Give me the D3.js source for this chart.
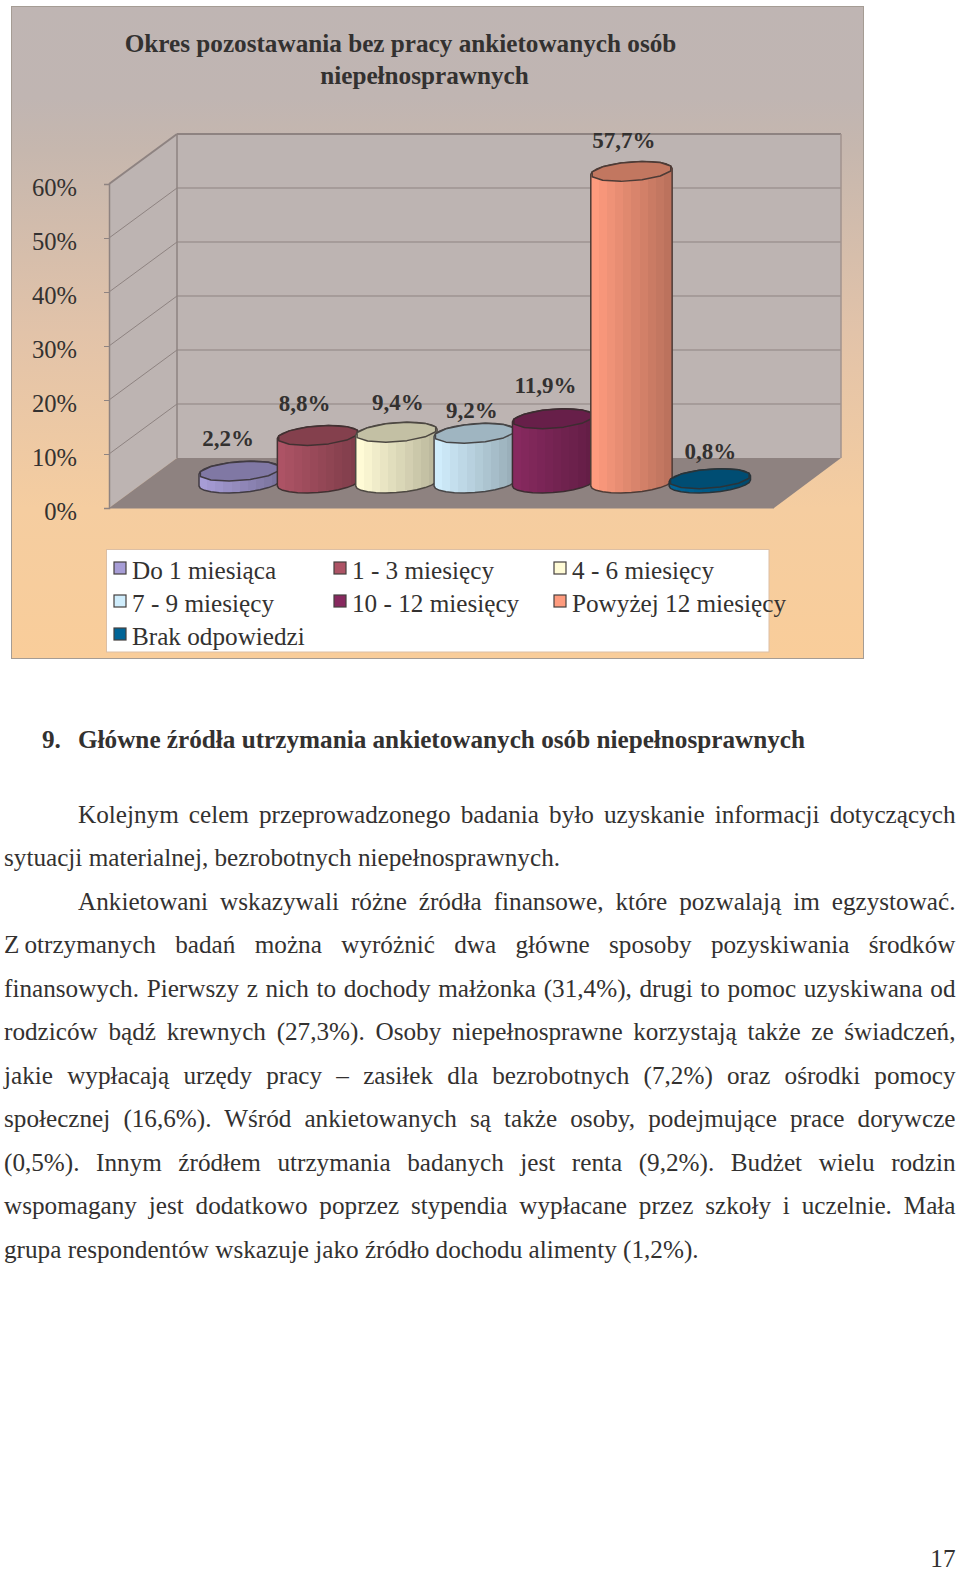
<!DOCTYPE html>
<html lang="pl">
<head>
<meta charset="utf-8">
<script src="https://cdnjs.cloudflare.com/ajax/libs/d3/7.8.5/d3.min.js"></script>
<style>
html,body{margin:0;padding:0;background:#fff}
svg{display:block}
text{font-family:"Liberation Serif","Times New Roman",serif}
</style>
</head>
<body>
<svg id="c" width="960" height="1570"></svg>
<script>
const categories = ["Do 1 miesiąca","1 - 3 miesięcy","4 - 6 miesięcy","7 - 9 miesięcy","10 - 12 miesięcy","Powyżej 12 miesięcy","Brak odpowiedzi"];
const values = [2.2,8.8,9.4,9.2,11.9,57.7,0.8];
const valueLabels = ["2,2%","8,8%","9,4%","9,2%","11,9%","57,7%","0,8%"];
const colors = ["#a79dd6","#ad5365","#fffbd6","#d0edfc","#87295f","#fe9b7e","#006496"];
const tickValues = [0,10,20,30,40,50,60];
const titleLines = ["Okres pozostawania bez pracy ankietowanych osób","niepełnosprawnych"];
const headingNumber = "9.";
const heading = "Główne źródła utrzymania ankietowanych osób niepełnosprawnych";
const bodyLines = [
 {t:"Kolejnym celem przeprowadzonego badania było uzyskanie informacji dotyczących",indent:true,just:true},
 {t:"sytuacji materialnej, bezrobotnych niepełnosprawnych.",indent:false,just:false},
 {t:"Ankietowani wskazywali różne źródła finansowe, które pozwalają im egzystować.",indent:true,just:true},
 {t:"Z\u2009otrzymanych badań można wyróżnić dwa główne sposoby pozyskiwania środków",indent:false,just:true},
 {t:"finansowych. Pierwszy z nich to dochody małżonka (31,4%), drugi to pomoc uzyskiwana od",indent:false,just:true},
 {t:"rodziców bądź krewnych (27,3%). Osoby niepełnosprawne korzystają także ze świadczeń,",indent:false,just:true},
 {t:"jakie wypłacają urzędy pracy – zasiłek dla bezrobotnych (7,2%) oraz ośrodki pomocy",indent:false,just:true},
 {t:"społecznej (16,6%). Wśród ankietowanych są także osoby, podejmujące prace dorywcze",indent:false,just:true},
 {t:"(0,5%). Innym źródłem utrzymania badanych jest renta (9,2%). Budżet wielu rodzin",indent:false,just:true},
 {t:"wspomagany jest dodatkowo poprzez stypendia wypłacane przez szkoły i uczelnie. Mała",indent:false,just:true},
 {t:"grupa respondentów wskazuje jako źródło dochodu alimenty (1,2%).",indent:false,just:false}
];
const pageNumber = "17";

const svg = d3.select("#c");
const defs = svg.append("defs");
const ink = "#333130";
const fs = 25.2;

// chart panel
const panel = {x:11.5,y:6.5,w:852,h:652};
const bgGrad = defs.append("linearGradient").attr("id","bg").attr("x1",0).attr("x2",0).attr("y1",0).attr("y2",1);
[[0,"#bfb5b3"],[0.14,"#c0b5b2"],[0.22,"#c6b7ae"],[0.5,"#e2c3a9"],[0.77,"#f5cda0"],[1,"#f9cd9a"]]
  .forEach(s=>bgGrad.append("stop").attr("offset",s[0]).attr("stop-color",s[1]));
svg.append("rect").attr("x",panel.x).attr("y",panel.y).attr("width",panel.w).attr("height",panel.h)
  .attr("fill","url(#bg)").attr("stroke","#a59c94").attr("stroke-width",1);

// scales
const front = {x0:109,x1:774};
const back = {x0:177,x1:841};
const yFront = d3.scaleLinear().domain([0,60]).range([508,184]);
const yBack = d3.scaleLinear().domain([0,60]).range([458,134]);
const yMid = d3.scaleLinear().domain([0,60]).range([483,159]);
const x = d3.scaleBand().domain(categories).range([200.5,749]);

// walls and floor
const wallFill = "#bdb4b2", floorFill = "#8e8280", wallLine = "#8e8381";
const poly = d3.line();
svg.append("path").attr("d",poly([[back.x0,yBack(60)],[back.x1,yBack(60)],[back.x1,yBack(0)],[back.x0,yBack(0)]])+"Z").attr("fill",wallFill);
svg.append("path").attr("d",poly([[front.x0,yFront(60)],[back.x0,yBack(60)],[back.x0,yBack(0)],[front.x0,yFront(0)]])+"Z").attr("fill",wallFill);
svg.append("path").attr("d",poly([[front.x0,yFront(0)],[back.x0,yBack(0)],[back.x1,yBack(0)],[front.x1,yFront(0)]])+"Z").attr("fill",floorFill);

svg.append("g").selectAll("line.g").data(tickValues.filter(v=>v>0)).join("line")
  .attr("x1",back.x0).attr("x2",back.x1).attr("y1",yBack).attr("y2",yBack)
  .attr("stroke",wallLine).attr("stroke-width",v=>v===60?2:1);
svg.append("g").selectAll("line.s").data(tickValues.filter(v=>v>0)).join("line")
  .attr("x1",front.x0).attr("x2",back.x0).attr("y1",yFront).attr("y2",yBack)
  .attr("stroke",wallLine).attr("stroke-width",v=>v===60?2:1);
svg.append("line").attr("x1",back.x0).attr("x2",back.x0).attr("y1",yBack(60)).attr("y2",yBack(0)).attr("stroke",wallLine).attr("stroke-width",1.5);
svg.append("line").attr("x1",back.x1).attr("x2",back.x1).attr("y1",yBack(60)).attr("y2",yBack(0)).attr("stroke","#a2938e").attr("stroke-width",1.5);

// axis
const axis = d3.axisLeft(yFront).tickValues(tickValues).tickSize(5).tickPadding(27).tickFormat(d=>d+"%");
const axG = svg.append("g").attr("transform",`translate(${front.x0},0)`).call(axis);
axG.select(".domain").attr("stroke",wallLine).attr("stroke-width",1.5);
axG.selectAll(".tick line").attr("stroke",wallLine);
axG.selectAll(".tick text").attr("font-size",24.6).attr("fill",ink).attr("dy",11)
  .style("font-family",'"Liberation Serif"');
svg.append("line").attr("x1",front.x0).attr("x2",front.x1).attr("y1",yFront(0)).attr("y2",yFront(0)).attr("stroke",wallLine).attr("stroke-width",1);

// cylinders
const facets = 12, bHalf = 9.5, tilt = 3;
function ring(cx,cy,a){
  return d3.range(facets).map(i=>{
    const t = i/facets*2*Math.PI + Math.PI/facets;
    const c = Math.cos(t), s = Math.sin(t);
    return [cx+a*c, cy+bHalf*s-tilt*c];
  });
}
values.forEach((v,i)=>{
  const col = d3.color(colors[i]);
  const dark = d3.interpolateRgb(colors[i], col.darker(0.85));
  const id = "side"+i;
  const g = defs.append("linearGradient").attr("id",id).attr("x1",0).attr("x2",1).attr("y1",0).attr("y2",0);
  const steps = 10;
  d3.range(steps).forEach(k=>{
    g.append("stop").attr("offset",k/steps).attr("stop-color",dark(k/(steps-1)));
    g.append("stop").attr("offset",(k+1)/steps).attr("stop-color",dark(k/(steps-1)));
  });
  const a = x.bandwidth()/2+1.5;
  const cx = x(categories[i])+x.bandwidth()/2;
  const top = yMid(v), base = yMid(0);
  const rTop = ring(cx,top,a);
  const lower = d3.range(facets+1).map(k=>{
    const t = k/facets*Math.PI;
    const c=Math.cos(t), s=Math.sin(t);
    return [cx+a*c, base+bHalf*s-tilt*c];
  });
  const upper = d3.range(facets+1).map(k=>{
    const t = Math.PI+k/facets*Math.PI;
    const c=Math.cos(t), s=Math.sin(t);
    return [cx+a*c, top+bHalf*s-tilt*c];
  });
  const stroke = d3.color(colors[i]).darker(2.2).formatHex();
  const edge = d3.interpolateRgb(stroke,"#3c3634")(0.7);
  svg.append("path").attr("d",poly(lower.concat(upper))+"Z").attr("fill",`url(#${id})`)
    .attr("stroke",edge).attr("stroke-width",1.5).attr("stroke-linejoin","round");
  svg.append("path").attr("d",poly(rTop)+"Z").attr("fill",col.darker(0.75).formatHex())
    .attr("stroke",edge).attr("stroke-width",1.5).attr("stroke-linejoin","round");
});

// data labels
const labelShift = [[-11.5,-25],[-13.5,-24.5],[1.5,-22],[-3,-15],[-7.5,-26],[-7.5,-23.5],[0.5,-20]];
svg.append("g").selectAll("text").data(valueLabels).join("text")
  .attr("x",(d,i)=>x(categories[i])+x.bandwidth()/2+labelShift[i][0])
  .attr("y",(d,i)=>yMid(values[i])+labelShift[i][1])
  .attr("text-anchor","middle").attr("font-size",23).attr("font-weight","bold").attr("fill",ink).text(d=>d);

// title
svg.append("g").selectAll("text").data(titleLines).join("text")
  .attr("x",(d,i)=>i===0?400.5:424.5).attr("y",(d,i)=>52+i*32)
  .attr("text-anchor","middle").attr("font-size",fs).attr("font-weight","bold").attr("fill",ink).text(d=>d);

// legend
svg.append("rect").attr("x",106.5).attr("y",549.5).attr("width",662.5).attr("height",102.5)
  .attr("fill","#fff").attr("stroke","#dcbfa5");
const legendX = d3.scalePoint().domain([0,1,2]).range([114,554]);
const legendY = d3.scalePoint().domain([0,1,2]).range([579,645]);
const legend = svg.append("g").selectAll("g").data(categories).join("g")
  .attr("transform",(d,i)=>`translate(${legendX(i%3)},${legendY(Math.floor(i/3))})`);
legend.append("rect").attr("x",0).attr("y",-17).attr("width",12).attr("height",12)
  .attr("fill",(d,i)=>colors[i]).attr("stroke","#45403f").attr("stroke-width",1.2);
legend.append("text").attr("x",18).attr("y",0).attr("font-size",fs).attr("fill",ink).text(d=>d);

// document text
svg.append("text").attr("x",42).attr("y",748).attr("font-size",fs).attr("font-weight","bold").attr("fill",ink).text(headingNumber);
svg.append("text").attr("x",78).attr("y",748).attr("font-size",fs).attr("font-weight","bold").attr("fill",ink).text(heading);

const right = 955.5;
const bodyY = d3.scaleLinear().domain([0,10]).range([823,1257.5]);
svg.append("g").selectAll("text").data(bodyLines).join("text")
  .attr("x",d=>d.indent?78:4).attr("y",(d,i)=>bodyY(i))
  .attr("font-size",fs).attr("fill",ink).text(d=>d.t)
  .each(function(d){
    if(!d.just) return;
    const w = this.getComputedTextLength();
    const n = d.t.split(" ").length-1;
    const x0 = d.indent?78:4;
    d3.select(this).style("word-spacing",((right-x0-w)/n)+"px");
  });
svg.append("text").attr("x",right).attr("y",1567).attr("text-anchor","end").attr("font-size",fs).attr("fill",ink).text(pageNumber);
</script>
</body>
</html>
